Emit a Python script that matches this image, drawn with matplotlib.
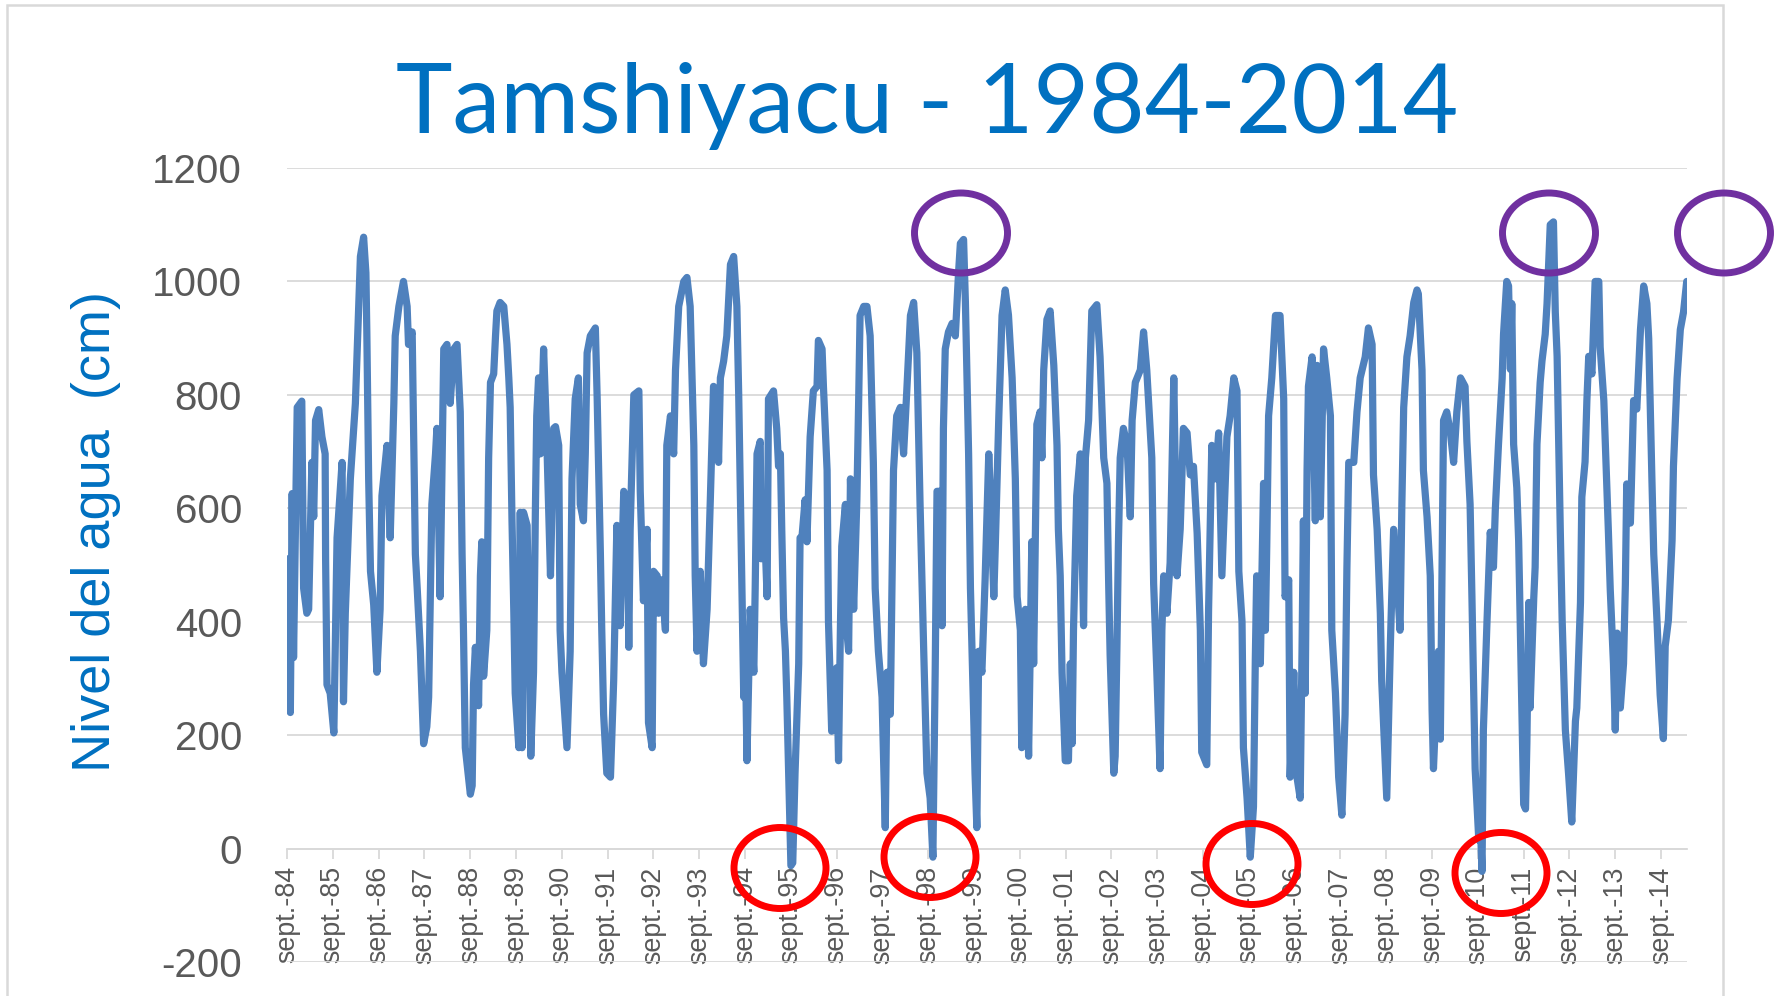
import numpy as np
import matplotlib
matplotlib.use("Agg")
import matplotlib.pyplot as plt
from matplotlib.patches import Ellipse, Rectangle

# ---------------- data (decimal year, water level in cm) ----------------
dates_1984_89 = [
    1984.67, 1984.74, 1984.78, 1984.81, 1984.89, 1984.99, 1985.03, 1985.10, 1985.14, 1985.21,
    1985.25, 1985.29, 1985.36, 1985.43, 1985.50, 1985.51, 1985.54, 1985.61, 1985.69, 1985.76,
    1985.87, 1985.90, 1985.94, 1986.05, 1986.16, 1986.23, 1986.27, 1986.34, 1986.39, 1986.41,
    1986.45, 1986.49, 1986.56, 1986.63, 1986.70, 1986.74, 1986.85, 1986.92, 1987.00, 1987.03,
    1987.11, 1987.21, 1987.29, 1987.32, 1987.40, 1987.43, 1987.47, 1987.51, 1987.58, 1987.65,
    1987.72, 1987.76, 1987.80, 1987.83, 1987.91, 1987.94, 1988.01, 1988.09, 1988.16, 1988.23,
    1988.31, 1988.38, 1988.45, 1988.49, 1988.52, 1988.56, 1988.67, 1988.71, 1988.74, 1988.78,
    1988.85, 1988.89, 1988.92, 1988.96, 1989.03, 1989.07, 1989.11, 1989.18, 1989.22, 1989.25,
    1989.32, 1989.40, 1989.47, 1989.51, 1989.54, 1989.58, 1989.62, 1989.65, 1989.73]
level_1984_89 = [
    511, 240, 626, 337, 778, 789, 459, 415, 422, 681,
    585, 755, 774, 726, 696, 511, 289, 274, 204, 548,
    681, 259, 415, 652, 785, 948, 1044, 1078, 1015, 911,
    652, 489, 430, 311, 422, 622, 711, 548, 785, 904,
    956, 1000, 956, 889, 911, 748, 519, 459, 348, 185,
    215, 267, 467, 607, 696, 741, 444, 881, 889, 785,
    881, 889, 770, 519, 385, 178, 96, 111, 289, 355,
    252, 481, 541, 304, 385, 689, 822, 837, 904, 948,
    963, 956, 889, 830, 778, 578, 415, 274, 178]

dates_1989_94 = [
    1989.76, 1989.80, 1989.83, 1989.91, 1989.99, 1990.05, 1990.09, 1990.12, 1990.16, 1990.20,
    1990.27, 1990.34, 1990.42, 1990.49, 1990.53, 1990.60, 1990.63, 1990.67, 1990.78, 1990.85,
    1990.89, 1990.96, 1991.03, 1991.07, 1991.14, 1991.18, 1991.22, 1991.29, 1991.40, 1991.44,
    1991.51, 1991.54, 1991.58, 1991.65, 1991.73, 1991.80, 1991.87, 1991.94, 1992.02, 1992.09,
    1992.13, 1992.16, 1992.24, 1992.35, 1992.38, 1992.45, 1992.53, 1992.56, 1992.64, 1992.67,
    1992.75, 1992.78, 1992.85, 1992.93, 1992.96, 1993.04, 1993.11, 1993.15, 1993.22, 1993.33,
    1993.40, 1993.47, 1993.55, 1993.58, 1993.62, 1993.69, 1993.76, 1993.84, 1993.91, 1993.95,
    1993.98, 1994.06, 1994.09, 1994.13, 1994.20, 1994.27, 1994.35, 1994.42, 1994.49, 1994.53,
    1994.56, 1994.60, 1994.64, 1994.67, 1994.71, 1994.78, 1994.86, 1994.89, 1994.93]
level_1989_94 = [
    593, 178, 593, 570, 163, 311, 593, 763, 830, 696,
    881, 718, 481, 741, 744, 711, 385, 311, 178, 348,
    652, 793, 830, 607, 578, 696, 874, 904, 918, 793,
    519, 385, 237, 133, 126, 296, 570, 393, 630, 615,
    355, 563, 800, 807, 630, 437, 563, 222, 178, 489,
    481, 415, 474, 385, 711, 763, 696, 844, 956, 1000,
    1007, 956, 711, 481, 348, 489, 326, 422, 615, 733,
    815, 800, 681, 830, 859, 904, 1030, 1044, 956, 800,
    652, 459, 267, 385, 155, 422, 311, 459, 696]

dates_1995_00 = [
    1995.00, 1995.02, 1995.07, 1995.15, 1995.18, 1995.29, 1995.36, 1995.40, 1995.44, 1995.47,
    1995.51, 1995.55, 1995.58, 1995.62, 1995.67, 1995.71, 1995.76, 1995.84, 1995.87, 1995.91,
    1995.98, 1996.02, 1996.09, 1996.16, 1996.24, 1996.27, 1996.35, 1996.38, 1996.46, 1996.49,
    1996.56, 1996.67, 1996.71, 1996.75, 1996.78, 1996.86, 1996.89, 1996.93, 1996.97, 1997.04,
    1997.11, 1997.15, 1997.18, 1997.26, 1997.33, 1997.40, 1997.47, 1997.51, 1997.58, 1997.66,
    1997.73, 1997.77, 1997.84, 1997.91, 1997.98, 1998.06, 1998.13, 1998.20, 1998.28, 1998.35,
    1998.42, 1998.49, 1998.57, 1998.64, 1998.71, 1998.77, 1998.82, 1998.86, 1998.93, 1998.97,
    1999.00, 1999.04, 1999.11, 1999.19, 1999.26, 1999.33, 1999.37, 1999.44, 1999.48, 1999.55,
    1999.59, 1999.66, 1999.69, 1999.73, 1999.77, 1999.84, 1999.91, 1999.99, 2000.02, 2000.10,
    2000.13, 2000.21]
level_1995_00 = [
    718, 511, 622, 444, 793, 807, 741, 674, 696, 563,
    407, 348, 267, 133, -30, -25, 133, 326, 548, 548,
    615, 541, 726, 807, 815, 896, 881, 815, 667, 400,
    207, 319, 155, 385, 533, 607, 385, 348, 652, 422,
    615, 793, 940, 956, 956, 904, 681, 459, 348, 267,
    37, 311, 237, 667, 763, 778, 696, 807, 940, 963,
    874, 607, 348, 133, 89, -15, 311, 630, 630, 393,
    741, 881, 911, 926, 904, 1015, 1067, 1074, 963, 696,
    459, 237, 133, 37, 348, 311, 474, 696, 637, 444,
    526, 763]

dates_2000_05 = [
    2000.28, 2000.35, 2000.42, 2000.50, 2000.57, 2000.61, 2000.68, 2000.71, 2000.79, 2000.86,
    2000.93, 2000.97, 2001.04, 2001.11, 2001.15, 2001.19, 2001.26, 2001.33, 2001.41, 2001.48,
    2001.51, 2001.55, 2001.59, 2001.66, 2001.73, 2001.77, 2001.81, 2001.84, 2001.91, 2001.99,
    2002.06, 2002.10, 2002.17, 2002.24, 2002.35, 2002.42, 2002.50, 2002.57, 2002.61, 2002.64,
    2002.72, 2002.75, 2002.79, 2002.82, 2002.86, 2002.93, 2003.01, 2003.08, 2003.12, 2003.19,
    2003.30, 2003.37, 2003.44, 2003.55, 2003.59, 2003.66, 2003.73, 2003.77, 2003.81, 2003.88,
    2003.95, 2004.03, 2004.10, 2004.17, 2004.24, 2004.32, 2004.39, 2004.46, 2004.54, 2004.61,
    2004.64, 2004.75, 2004.79, 2004.86, 2004.94, 2005.01, 2005.08, 2005.19, 2005.26, 2005.34,
    2005.41, 2005.45, 2005.52]
level_2000_05 = [
    940, 985, 941, 830, 652, 444, 385, 178, 422, 163,
    541, 326, 748, 770, 689, 844, 933, 948, 852, 711,
    563, 481, 311, 155, 155, 326, 185, 385, 622, 696,
    393, 689, 755, 948, 959, 867, 689, 644, 459, 341,
    133, 163, 363, 533, 689, 741, 711, 585, 755, 822,
    844, 911, 844, 689, 467, 311, 141, 385, 481, 415,
    504, 830, 481, 563, 741, 733, 659, 674, 556, 385,
    170, 148, 422, 711, 652, 733, 481, 726, 763, 830,
    807, 489, 400]

dates_2005_10 = [
    2005.55, 2005.63, 2005.70, 2005.77, 2005.81, 2005.84, 2005.92, 2005.99, 2006.03, 2006.06,
    2006.10, 2006.17, 2006.25, 2006.35, 2006.43, 2006.46, 2006.54, 2006.57, 2006.65, 2006.72,
    2006.79, 2006.83, 2006.86, 2006.90, 2006.94, 2006.97, 2007.05, 2007.08, 2007.12, 2007.16,
    2007.23, 2007.30, 2007.37, 2007.45, 2007.48, 2007.56, 2007.63, 2007.70, 2007.77, 2007.81,
    2007.85, 2007.96, 2008.03, 2008.10, 2008.21, 2008.28, 2008.36, 2008.39, 2008.47, 2008.54,
    2008.57, 2008.68, 2008.76, 2008.83, 2008.90, 2008.97, 2009.01, 2009.05, 2009.12, 2009.19,
    2009.27, 2009.34, 2009.37, 2009.45, 2009.48, 2009.56, 2009.63, 2009.67, 2009.70, 2009.78,
    2009.81, 2009.85, 2009.88, 2009.92, 2009.99, 2010.07, 2010.14, 2010.21, 2010.29, 2010.39,
    2010.43, 2010.50, 2010.54, 2010.61, 2010.69, 2010.72, 2010.76]
level_2005_10 = [
    178, 89, -15, 74, 333, 481, 326, 644, 385, 533,
    763, 830, 940, 940, 793, 444, 474, 126, 311, 126,
    89, 348, 578, 274, 667, 815, 867, 741, 578, 852,
    585, 881, 830, 763, 385, 274, 126, 59, 237, 494,
    681, 681, 770, 830, 867, 918, 889, 659, 563, 415,
    296, 89, 363, 563, 481, 385, 607, 778, 867, 904,
    963, 985, 978, 844, 667, 585, 481, 244, 141, 296,
    348, 193, 437, 755, 770, 733, 681, 770, 830, 815,
    718, 607, 444, 141, 15, 52, -40]

dates_2010_15 = [
    2010.79, 2010.87, 2010.94, 2011.01, 2011.05, 2011.12, 2011.20, 2011.23, 2011.30, 2011.34,
    2011.38, 2011.41, 2011.45, 2011.52, 2011.56, 2011.60, 2011.63, 2011.67, 2011.71, 2011.74,
    2011.78, 2011.81, 2011.89, 2011.92, 2011.96, 2012.03, 2012.07, 2012.14, 2012.18, 2012.25,
    2012.32, 2012.36, 2012.40, 2012.47, 2012.51, 2012.58, 2012.65, 2012.72, 2012.80, 2012.83,
    2012.91, 2012.94, 2013.01, 2013.05, 2013.09, 2013.16, 2013.23, 2013.31, 2013.34, 2013.42,
    2013.45, 2013.52, 2013.56, 2013.63, 2013.67, 2013.71, 2013.78, 2013.85, 2013.89, 2013.92,
    2014.00, 2014.07, 2014.14, 2014.22, 2014.29, 2014.36, 2014.40, 2014.47, 2014.51, 2014.58,
    2014.65, 2014.72, 2014.76, 2014.83, 2014.91, 2014.94, 2015.02, 2015.09, 2015.16, 2015.23]
level_2010_15 = [
    209, 403, 558, 496, 597, 713, 829, 907, 1000, 992,
    845, 961, 713, 636, 543, 372, 248, 78, 70, 186,
    434, 248, 442, 496, 713, 822, 860, 907, 961, 1100,
    1105, 946, 868, 558, 403, 209, 132, 47, 225, 248,
    434, 620, 682, 790, 868, 837, 1000, 1000, 884, 790,
    721, 558, 457, 326, 209, 380, 248, 326, 465, 643,
    574, 790, 775, 915, 992, 961, 899, 651, 519, 403,
    271, 194, 357, 403, 543, 674, 829, 915, 946, 1000]

tick_dates = [1984.667, 1985.667, 1986.667, 1987.667, 1988.667, 1989.667, 1990.667,
              1991.667, 1992.667, 1993.667, 1994.667, 1995.667, 1996.667, 1997.667,
              1998.667, 1999.667, 2000.667, 2001.667, 2002.667, 2003.667, 2004.667,
              2005.667, 2006.667, 2007.667, 2008.667, 2009.667, 2010.667, 2011.667,
              2012.667, 2013.667, 2014.667]
tick_labels = ["sept.-84", "sept.-85", "sept.-86", "sept.-87", "sept.-88", "sept.-89",
               "sept.-90", "sept.-91", "sept.-92", "sept.-93", "sept.-94", "sept.-95",
               "sept.-96", "sept.-97", "sept.-98", "sept.-99", "sept.-00", "sept.-01",
               "sept.-02", "sept.-03", "sept.-04", "sept.-05", "sept.-06", "sept.-07",
               "sept.-08", "sept.-09", "sept.-10", "sept.-11", "sept.-12", "sept.-13",
               "sept.-14"]
y_ticks = [-200, 0, 200, 400, 600, 800, 1000, 1200]

title_text = "Tamshiyacu - 1984-2014"
ylabel_text = "Nivel del agua  (cm)"

date_parts = [dates_1984_89, dates_1989_94, dates_1995_00, dates_2000_05, dates_2005_10, dates_2010_15]
level_parts = [level_1984_89, level_1989_94, level_1995_00, level_2000_05, level_2005_10, level_2010_15]
for d, l in zip(date_parts, level_parts):
    assert len(d) == len(l), (len(d), len(l))
dates = np.concatenate([np.asarray(d, float) for d in date_parts])
levels = np.concatenate([np.asarray(l, float) for l in level_parts])

# ---------------- figure ----------------
W, H, DPI = 1779, 996, 100
plt.rcParams['font.family'] = ['Liberation Sans', 'DejaVu Sans']
plt.rcParams['axes.unicode_minus'] = False

fig = plt.figure(figsize=(W / DPI, H / DPI), dpi=DPI)
fig.patch.set_facecolor('white')

def fx(px):
    return px / W

def fy(py):
    return 1 - py / H

ax_left, ax_right, ax_top, ax_bottom = 287, 1687, 168, 962.1
ax = fig.add_axes([fx(ax_left), fy(ax_bottom), (ax_right - ax_left) / W, (ax_bottom - ax_top) / H])
ax.set_facecolor('white')

ax.plot(dates, levels, color='#4F81BD', lw=5.2, solid_joinstyle='round',
        solid_capstyle='round', zorder=3)

ax.set_xlim(1984.667, 2015.236)
ax.set_ylim(-200, 1200)
ax.set_yticks(y_ticks)
ax.yaxis.grid(True, color='#D9D9D9', lw=1.3)
ax.set_axisbelow(True)
for s in ['left', 'right', 'top']:
    ax.spines[s].set_visible(False)
ax.spines['bottom'].set_position(('data', 0))
ax.spines['bottom'].set_color('#D9D9D9')
ax.spines['bottom'].set_linewidth(1.3)
ax.spines['bottom'].set_zorder(2)

ax.tick_params(axis='y', length=0, pad=32.4, labelsize=29, labelcolor='#595959')
ax.set_xticks(tick_dates)
ax.set_xticklabels(tick_labels, rotation=90)
ax.tick_params(axis='x', length=7.2, width=1.3, color='#D9D9D9', pad=5.5,
               labelsize=19.4, labelcolor='#595959')

# title and axis label
fig.text(fx(927), fy(133), title_text, ha='center', va='baseline',
         color='#0070C0', fontsize=69, family=['Lato', 'DejaVu Sans'])
fig.text(fx(110), fy(531), ylabel_text, rotation=90, rotation_mode='anchor',
         ha='center', va='baseline', color='#0070C0', fontsize=39)

# chart border
fig.add_artist(Rectangle((fx(7), -0.05), (1723 - 7) / W, fy(5) + 0.05,
                         transform=fig.transFigure, fill=False, ec='#D9D9D9', lw=1.8, zorder=0.5))

# annotation ellipses
purple_centres = [(961, 233), (1549, 233), (1724, 233)]
red_centres = [(780, 868), (930, 857), (1252, 864), (1501, 873)]
for cx, cy in purple_centres:
    fig.add_artist(Ellipse((fx(cx), fy(cy)), 93 / W, 80 / H, transform=fig.transFigure,
                           fill=False, ec='#7030A0', lw=5, zorder=10))
for cx, cy in red_centres:
    fig.add_artist(Ellipse((fx(cx), fy(cy)), 92 / W, 81 / H, transform=fig.transFigure,
                           fill=False, ec='#FF0000', lw=5, zorder=10))

fig.savefig('out.png', dpi=DPI, facecolor='white')
